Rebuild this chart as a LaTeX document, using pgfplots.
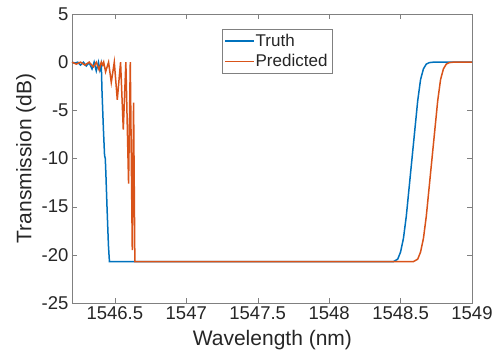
\documentclass[border=0pt]{standalone}
\usepackage{pgfplots}
\pgfplotsset{compat=1.18}
\usepackage{fontspec}
\setmainfont{Liberation Sans}
\definecolor{mblue}{rgb}{0,0.447,0.741}
\definecolor{mred}{rgb}{0.85,0.325,0.098}
\definecolor{axgray}{rgb}{0.5,0.5,0.5}
\definecolor{txt}{rgb}{0.15,0.15,0.15}
\begin{document}
\begin{tikzpicture}
\begin{axis}[
  name=ax,
  scale only axis,
  width=400pt, height=289pt,
  xmin=1546.2, xmax=1549,
  ymin=-25, ymax=5,
  xtick={1546.5,1547,1547.5,1548,1548.5,1549},
  xticklabels={1546.5,1547,1547.5,1548,1548.5,1549},
  ytick={-25,-20,-15,-10,-5,0,5},
  tick align=inside,
  major tick length=5pt,
  axis line style={axgray},
  tick style={axgray},
  ticklabel style={font=\fontsize{18.5}{20}\selectfont, text=txt},
  /pgf/number format/assume math mode=true,
  xlabel={Wavelength (nm)},
  ylabel={Transmission (dB)},
  label style={font=\fontsize{21}{24}\selectfont, text=txt},
  xlabel style={at={(axis description cs:0.501,-0.128)}, anchor=center},
  ylabel style={at={(axis description cs:-0.115,0.5)}, anchor=center},
  legend style={at={(0.375,0.948)}, anchor=north west, draw=axgray,
    font=\fontsize{17}{19}\selectfont, text=txt, inner sep=3pt,
    row sep=2.5pt},
  legend cell align=left,
  legend image code/.code={\fill[#1, draw=none] (0cm,-0.8pt) rectangle (1cm,0.8pt);},
]
\addplot[color=mblue, line width=1.5pt] coordinates {
(1546.20,0) (1546.22,-0.1) (1546.24,0) (1546.26,-0.3) (1546.28,0)
(1546.30,-0.4) (1546.32,-0.05) (1546.34,-0.7) (1546.355,0) (1546.37,-0.9)
(1546.385,0) (1546.395,-0.8) (1546.405,-0.2) (1546.41,-3) (1546.42,-7)
(1546.428,-9.7) (1546.433,-10) (1546.437,-11.5) (1546.445,-15)
(1546.455,-19) (1546.462,-20.7)
(1548.45,-20.7) (1548.48,-20.45) (1548.50,-19.7) (1548.52,-18.3)
(1548.54,-16) (1548.56,-13) (1548.58,-10) (1548.60,-7) (1548.62,-4)
(1548.64,-1.8) (1548.66,-0.7) (1548.68,-0.2) (1548.70,-0.05) (1548.73,0)
(1549,0)
};
\addlegendentry{Truth}
\addplot[color=mred, line width=1.5pt] coordinates {
(1546.20,0) (1546.23,-0.2) (1546.26,0) (1546.29,-0.3) (1546.32,0)
(1546.35,-0.5) (1546.37,0) (1546.39,-0.8) (1546.405,0) (1546.415,-0.3)
(1546.422,0)
(1546.435,-1.0) (1546.456,0) (1546.475,-2.1) (1546.496,0)
(1546.517,-3.9) (1546.540,0) (1546.559,-7.0) (1546.577,0)
(1546.596,-12.6) (1546.608,0) (1546.622,-19.5) (1546.631,-4.2)
(1546.640,-20.7)
(1548.59,-20.7) (1548.62,-20.45) (1548.64,-19.7) (1548.66,-18.3)
(1548.68,-16) (1548.70,-13) (1548.72,-10) (1548.74,-7) (1548.76,-4)
(1548.78,-1.8) (1548.80,-0.7) (1548.82,-0.2) (1548.84,-0.05) (1548.87,0)
(1549,0)
};
\addlegendentry{Predicted}
\end{axis}
\pgfresetboundingbox
\path[use as bounding box] ([xshift=-72pt,yshift=-55pt]ax.south west) rectangle ([xshift=25pt,yshift=14pt]ax.north east);
\end{tikzpicture}
\end{document}
